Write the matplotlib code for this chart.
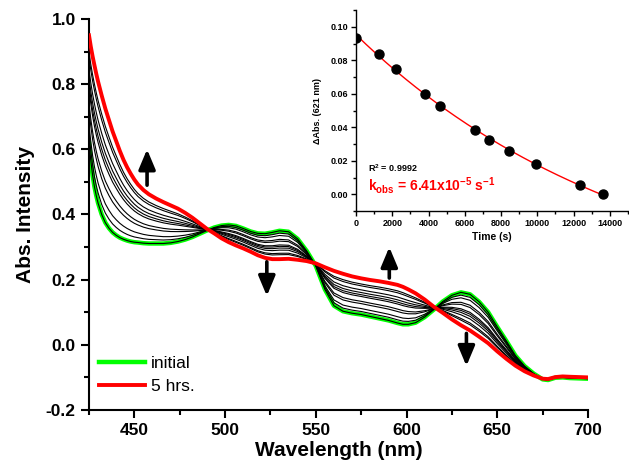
import numpy as np
import matplotlib
matplotlib.use("Agg")
import matplotlib.pyplot as plt
from matplotlib.ticker import MultipleLocator, FormatStrFormatter

plt.rcParams['font.family'] = ['Liberation Sans', 'DejaVu Sans']
plt.rcParams['mathtext.fontset'] = 'custom'
plt.rcParams['mathtext.rm'] = 'Liberation Sans:bold'
plt.rcParams['mathtext.bf'] = 'Liberation Sans:bold'
plt.rcParams['mathtext.default'] = 'bf'

# спектры: начальный (зелёный) и через 5 ч (красный)
wavelength = [425, 426, 427, 428, 429, 430, 432, 434, 436, 438, 440, 442, 444, 446,
              448, 450, 452, 455, 458, 462, 466, 470, 474, 478, 482, 486, 490, 494,
              498, 502, 506, 510, 514, 518, 522, 526, 530, 535, 540, 545, 550, 555,
              560, 565, 570, 575, 580, 585, 590, 595, 598, 601, 605, 610, 615, 620,
              625, 630, 635, 640, 645, 650, 655, 660, 665, 670, 675, 678, 682, 686,
              690, 695, 700]
abs_initial = [0.62, 0.565, 0.52, 0.485, 0.458, 0.435, 0.40, 0.375, 0.358, 0.345,
               0.336, 0.329, 0.324, 0.32, 0.317, 0.315, 0.314, 0.312, 0.311, 0.311,
               0.311, 0.313, 0.317, 0.323, 0.331, 0.341, 0.351, 0.36, 0.366, 0.368,
               0.365, 0.357, 0.348, 0.342, 0.341, 0.345, 0.35, 0.347, 0.325, 0.288,
               0.242, 0.17, 0.12, 0.103, 0.097, 0.093, 0.087, 0.081, 0.075, 0.067,
               0.063, 0.063, 0.068, 0.085, 0.108, 0.133, 0.152, 0.161, 0.155, 0.132,
               0.10, 0.055, 0.012, -0.033, -0.065, -0.088, -0.106, -0.108, -0.101,
               -0.10, -0.102, -0.103, -0.104]
abs_final = [0.95, 0.915, 0.885, 0.858, 0.832, 0.808, 0.765, 0.725, 0.69, 0.655,
             0.625, 0.595, 0.568, 0.545, 0.525, 0.507, 0.492, 0.475, 0.462, 0.449,
             0.438, 0.428, 0.418, 0.405, 0.39, 0.373, 0.356, 0.342, 0.327, 0.315,
             0.305, 0.296, 0.286, 0.275, 0.267, 0.263, 0.263, 0.264, 0.261, 0.257,
             0.25, 0.238, 0.227, 0.218, 0.21, 0.204, 0.199, 0.195, 0.19, 0.184,
             0.178, 0.17, 0.158, 0.139, 0.117, 0.098, 0.078, 0.06, 0.044, 0.025,
             0.005, -0.02, -0.043, -0.064, -0.081, -0.094, -0.104, -0.105, -0.099,
             -0.097, -0.098, -0.099, -0.10]

# кинетика на 621 нм (вставка)
time_s = [0, 1290, 2200, 3790, 4640, 6580, 7350, 8460, 9900, 12360, 13630]
delta_abs = [0.0934, 0.0841, 0.0751, 0.0600, 0.0530, 0.0382, 0.0327, 0.0261,
             0.0179, 0.0056, 0.0]
k_obs = 6.41e-5
t_end = 5 * 3600  # 5 hrs.

lam = np.array(wavelength)
a0 = np.array(abs_initial)
a1 = np.array(abs_final)
t = np.array(time_s, dtype=float)
d = np.array(delta_abs)

# подгонка A*exp(-k t) + C при известном k
M = np.column_stack([np.exp(-k_obs * t), np.ones_like(t)])
(A, C), *_ = np.linalg.lstsq(M, d, rcond=None)
d_end = A * np.exp(-k_obs * t_end) + C
frac = (d[0] - d) / (d[0] - d_end)  # доля превращения для промежуточных спектров

fig = plt.figure(figsize=(6.29, 4.66), dpi=100)
ax = fig.add_axes([0.1415, 0.1202, 0.7933, 0.839])

ax.plot(lam, a0, color='#00ff00', lw=3.2, label='initial', zorder=2)
for f in frac:
    ax.plot(lam, a0 + f * (a1 - a0), color='black', lw=0.8, zorder=3)
ax.plot(lam, a1, color='red', lw=2.8, label='5 hrs.', zorder=4)

ax.set_xlim(425, 700)
ax.set_ylim(-0.2, 1.0)
ax.xaxis.set_major_locator(MultipleLocator(50))
ax.xaxis.set_minor_locator(MultipleLocator(25))
ax.yaxis.set_major_locator(MultipleLocator(0.2))
ax.yaxis.set_minor_locator(MultipleLocator(0.1))
ax.yaxis.set_major_formatter(FormatStrFormatter('%.1f'))
for s in ['top', 'right']:
    ax.spines[s].set_visible(False)
for s in ['left', 'bottom']:
    ax.spines[s].set_linewidth(1.5)
ax.tick_params(which='major', direction='out', length=6, width=1.5, labelsize=12.5)
ax.tick_params(which='minor', direction='out', length=3.5, width=1.5)
for lb in ax.get_xticklabels() + ax.get_yticklabels():
    lb.set_fontweight('bold')
ax.set_xlabel('Wavelength (nm)', fontsize=15, fontweight='bold', labelpad=2)
ax.set_ylabel('Abs. Intensity', fontsize=15, fontweight='bold', labelpad=8)

leg = ax.legend(loc='lower left', bbox_to_anchor=(0.0, 0.015), frameon=False,
                fontsize=12.5, handlelength=2.6, handletextpad=0.35,
                labelspacing=0.45, borderaxespad=0.2)

arrow_kw = dict(arrowstyle='-|>,head_width=0.42,head_length=1.0', lw=2.6,
                color='black', shrinkA=0, shrinkB=0, mutation_scale=12)
ax.annotate('', xy=(457, 0.60), xytext=(457, 0.49), arrowprops=arrow_kw)
ax.annotate('', xy=(523, 0.15), xytext=(523, 0.255), arrowprops=arrow_kw)
ax.annotate('', xy=(590.5, 0.30), xytext=(590.5, 0.205), arrowprops=arrow_kw)
ax.annotate('', xy=(633, -0.065), xytext=(633, 0.035), arrowprops=arrow_kw)

# вставка
ins = fig.add_axes([0.566, 0.547, 0.4324, 0.431])
tt = np.linspace(0, t[-1] + 50, 200)
ins.plot(tt, A * np.exp(-k_obs * tt) + C, color='red', lw=1.0, zorder=2)
ins.plot(t, d, 'o', color='black', ms=6.5, zorder=3)
ins.set_xlim(0, 15000)
ins.set_ylim(-0.01, 0.11)
ins.xaxis.set_major_locator(MultipleLocator(2000))
ins.xaxis.set_minor_locator(MultipleLocator(1000))
ins.yaxis.set_major_locator(MultipleLocator(0.02))
ins.yaxis.set_minor_locator(MultipleLocator(0.01))
ins.yaxis.set_major_formatter(FormatStrFormatter('%.2f'))
for s in ['top', 'right']:
    ins.spines[s].set_visible(False)
for s in ['left', 'bottom']:
    ins.spines[s].set_linewidth(1.0)
ins.tick_params(which='major', direction='out', length=3.5, width=1.0, labelsize=6.5, pad=2)
ins.tick_params(which='minor', direction='out', length=2, width=1.0)
for lb in ins.get_xticklabels() + ins.get_yticklabels():
    lb.set_fontweight('bold')
ins.set_xlabel('Time (s)', fontsize=7.5, fontweight='bold', labelpad=3)
ins.set_ylabel('\u0394Abs. (621 nm)', fontsize=6.5, fontweight='bold', labelpad=6)
ins.text(0.045, 0.195, r'R$^2$ = 0.9992', transform=ins.transAxes,
         fontsize=6.5, fontweight='bold', color='black')
ins.text(0.045, 0.1, r'k$_{obs}$ = 6.41x10$^{-5}$ s$^{-1}$', transform=ins.transAxes,
         fontsize=10, fontweight='bold', color='red')

fig.savefig('out.png', dpi=100)
